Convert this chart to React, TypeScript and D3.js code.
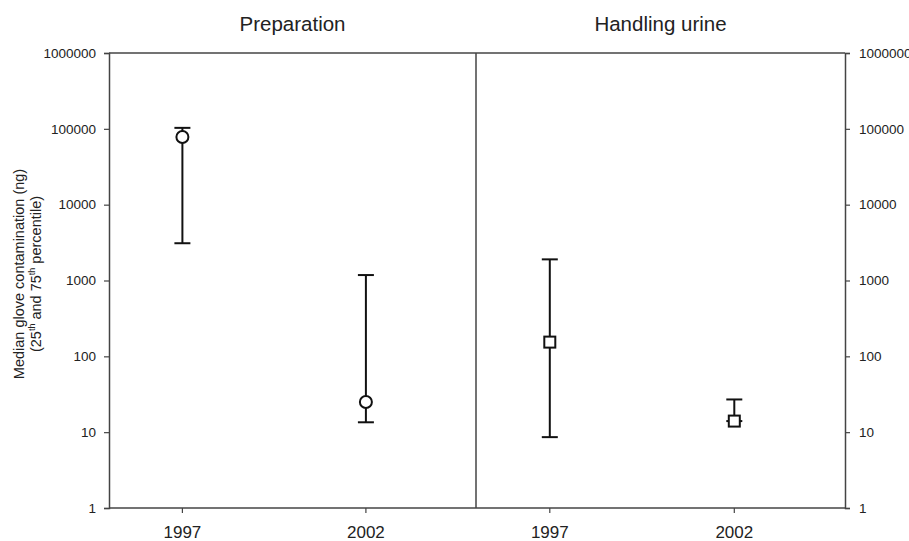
import * as d3 from "d3";
import React, { useEffect, useRef } from "react";

// panels and categories
const panels = ["Preparation", "Handling urine"];
const years = ["1997", "2002"];
const yTicks = [1, 10, 100, 1000, 10000, 100000, 1000000];

// median, 25th, 75th percentile per panel/year
const prepMedian = [78000, 25];
const prepLow = [3100, 13.5];
const prepHigh = [103000, 1180];
const urineMedian = [154, 14];
const urineLow = [8.6, 14];
const urineHigh = [1900, 27];

const App: React.FC = () => {
  const ref = useRef<SVGSVGElement>(null);
  useEffect(() => {
    const svg = d3.select(ref.current);
    svg.selectAll("*").remove();
    const W = 909;
    const H = 541;
    svg.attr("width", W).attr("height", H);
    const left = 109;
    const right = 845;
    const top = 53;
    const bottom = 508;
    const mid = 476;
    const font = "Arial, Liberation Sans, sans-serif";

    const y = d3.scaleLog().domain([1, 1000000]).range([bottom, top]);
    const panelX = [
      d3.scaleLinear().domain([0, 1]).range([left, mid]),
      d3.scaleLinear().domain([0, 1]).range([mid, right]),
    ];
    const yearPos = [0.2, 0.7];

    const g = svg.append("g");
    // frame
    const frame = "#444";
    g.append("line").attr("x1", left).attr("x2", right).attr("y1", top).attr("y2", top).attr("stroke", frame).attr("stroke-width", 1.5);
    g.append("line").attr("x1", left).attr("x2", right).attr("y1", bottom).attr("y2", bottom).attr("stroke", frame).attr("stroke-width", 1.5);
    g.append("line").attr("x1", mid).attr("x2", mid).attr("y1", top).attr("y2", bottom).attr("stroke", frame).attr("stroke-width", 1.5);

    // y axes
    const fmt = (d: d3.NumberValue) => String(d);
    const la = d3.axisLeft(y).tickValues(yTicks).tickFormat(fmt).tickSize(5).tickPadding(8);
    const ra = d3.axisRight(y).tickValues(yTicks).tickFormat(fmt).tickSize(5).tickPadding(9);
    const lg = g.append("g").attr("transform", `translate(${left},0)`).call(la);
    const rg = g.append("g").attr("transform", `translate(${right},0)`).call(ra);
    [lg, rg].forEach((a) => {
      a.select(".domain").attr("stroke", frame).attr("stroke-width", 1.5);
      a.selectAll(".tick line").attr("stroke", frame).attr("stroke-width", 1.2);
      a.selectAll(".tick text").attr("font-size", 13.5).attr("font-family", font).attr("fill", "#222");
    });

    // x ticks
    panelX.forEach((sx, p) => {
      years.forEach((yr, i) => {
        const x = sx(yearPos[i]);
        g.append("line").attr("x1", x).attr("x2", x).attr("y1", bottom).attr("y2", bottom + 5).attr("stroke", frame).attr("stroke-width", 1.2);
        g.append("text").attr("x", x).attr("y", bottom + 30).attr("text-anchor", "middle")
          .attr("font-size", 17).attr("font-family", font).attr("fill", "#222").text(yr);
      });
      g.append("text").attr("x", (sx(0) + sx(1)) / 2).attr("y", 31).attr("text-anchor", "middle")
        .attr("font-size", 20.5).attr("font-family", font).attr("fill", "#222").text(panels[p]);
    });

    // error bars
    const series = [
      { med: prepMedian, lo: prepLow, hi: prepHigh, shape: "circle" },
      { med: urineMedian, lo: urineLow, hi: urineHigh, shape: "square" },
    ];
    series.forEach((s, p) => {
      years.forEach((_, i) => {
        const x = panelX[p](yearPos[i]);
        const y1 = y(s.lo[i]);
        const y2 = y(s.hi[i]);
        g.append("line").attr("x1", x).attr("x2", x).attr("y1", y1).attr("y2", y2).attr("stroke", "#111").attr("stroke-width", 2);
        [y1, y2].forEach((yy) => {
          g.append("line").attr("x1", x - 8).attr("x2", x + 8).attr("y1", yy).attr("y2", yy).attr("stroke", "#111").attr("stroke-width", 2);
        });
        const ym = y(s.med[i]);
        if (s.shape === "circle") {
          g.append("circle").attr("cx", x).attr("cy", ym).attr("r", 6).attr("fill", "#fff").attr("stroke", "#111").attr("stroke-width", 2);
        } else {
          g.append("rect").attr("x", x - 5.5).attr("y", ym - 5.5).attr("width", 11).attr("height", 11).attr("fill", "#fff").attr("stroke", "#111").attr("stroke-width", 2);
        }
      });
    });

    // y label
    const cy = 274;
    const t1 = g.append("text").attr("transform", `translate(24,${cy}) rotate(-90)`).attr("text-anchor", "middle")
      .attr("font-size", 14.5).attr("font-family", font).attr("fill", "#222");
    t1.text("Median glove contamination (ng)");
    const t2 = g.append("text").attr("transform", `translate(41,${cy}) rotate(-90)`).attr("text-anchor", "middle")
      .attr("font-size", 14.5).attr("font-family", font).attr("fill", "#222");
    t2.append("tspan").text("(25");
    t2.append("tspan").attr("dy", -6).attr("font-size", 9).text("th");
    t2.append("tspan").attr("dy", 6).text(" and 75");
    t2.append("tspan").attr("dy", -6).attr("font-size", 9).text("th");
    t2.append("tspan").attr("dy", 6).text(" percentile)");
  }, []);

  return <svg ref={ref} style={{ position: "absolute", left: 0, top: 0 }}></svg>;
};

export default App;
